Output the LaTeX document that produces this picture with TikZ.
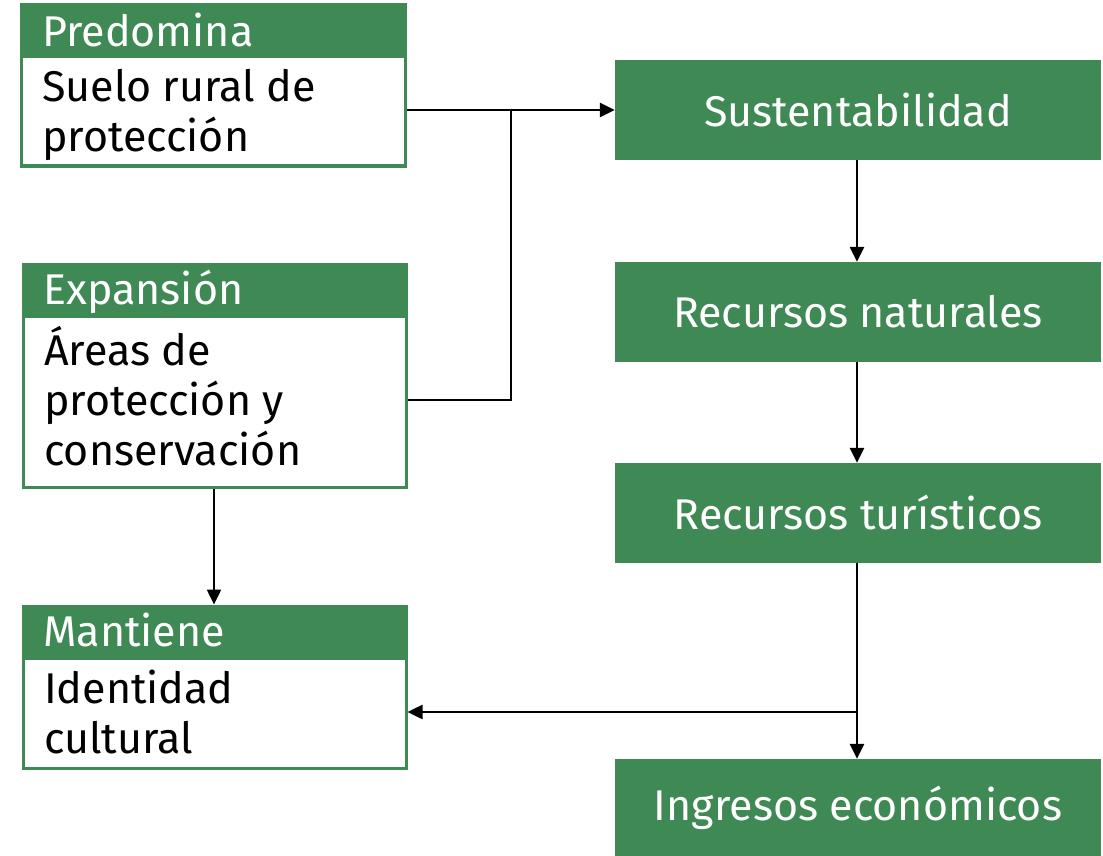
\documentclass[tikz,border=0pt]{standalone}
\usepackage{fontspec}
\setmainfont{Fira Sans}
\usetikzlibrary{arrows.meta,calc}
\definecolor{gr}{RGB}{63,137,85}
\begin{document}
\begin{tikzpicture}[x=1pt,y=-1pt,
  outerbox/.style={draw=gr,line width=3pt,fill=white,minimum width=#1,inner sep=0pt,rectangle},
  gbox/.style={fill=gr,text=white,minimum width=486pt,minimum height=100pt,inner sep=0pt,font=\fontsize{43}{50}\selectfont},
  htext/.style={anchor=base west,inner sep=0pt,text=white,font=\fontsize{43}{50}\selectfont},
  btext/.style={anchor=base west,inner sep=0pt,text=black,align=left,font=\fontsize{43}{50}\selectfont},
  arr/.style={line width=2.5pt,-{Triangle[length=15pt,width=14pt]}},
  ln/.style={line width=2.5pt}]
\useasboundingbox (0,0) rectangle (1103,856);
% left boxes
\node[outerbox=384pt,minimum height=161pt] (b1) at (213,85.5) {};
\fill[gr] (21,5) rectangle (405,58);
\node[htext] (h1) at (42,47) {Predomina};
\node[btext] (t1) at (42,152) {Suelo rural de\\protección};

\node[outerbox=383pt,minimum height=223pt] (b2) at (214.5,375.5) {};
\fill[gr] (23,264) rectangle (406,318);
\node[htext] (h2) at (43,304) {Expansión};
\node[btext] (t2) at (44,465) {Áreas de\\protección y\\conservación};

\node[outerbox=383pt,minimum height=162pt] (b3) at (214.5,687) {};
\fill[gr] (23,606) rectangle (406,660);
\node[htext] (h3) at (43,646) {Mantiene};
\node[btext] (t3) at (44,753) {Identidad\\cultural};

% right boxes
\node[gbox] (s1) at (858,110) {Sustentabilidad};
\node[gbox] (s2) at (858,312) {Recursos naturales};
\node[gbox] (s3) at (858,513) {Recursos turísticos};
\node[gbox,minimum height=97pt] (s4) at (858,807.5) {Ingresos económicos};

\coordinate (j1) at (511,110);
\coordinate (j2) at (857,712);
\draw[arr] (b1.east |- j1) -- (s1.west |- j1);
\draw[ln] (b2.east |- 0,400) -| (j1);
\draw[arr] (s1.south -| j2) -- (s2.north -| j2);
\draw[arr] (s2.south -| j2) -- (s3.north -| j2);
\draw[arr] (s3.south -| j2) -- (s4.north -| j2);
\draw[arr] (j2) -- (b3.east |- j2);
\draw[arr] (b2.south -| 214,0) -- (b3.north -| 214,0);
\end{tikzpicture}
\end{document}
